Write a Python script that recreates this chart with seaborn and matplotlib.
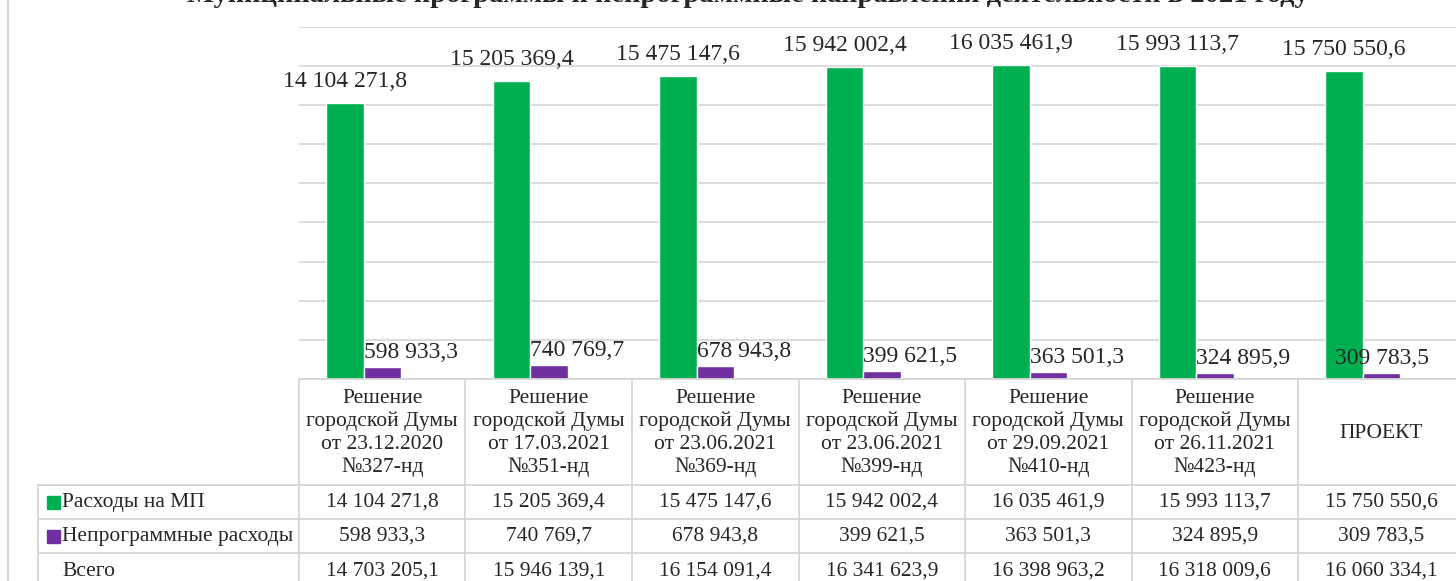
import pandas as pd
import seaborn as sns
import matplotlib.pyplot as plt
from matplotlib.lines import Line2D
from matplotlib.patches import Rectangle

# данные
categories = ["Решение\nгородской Думы\nот 23.12.2020\n№327-нд",
              "Решение\nгородской Думы\nот 17.03.2021\n№351-нд",
              "Решение\nгородской Думы\nот 23.06.2021\n№369-нд",
              "Решение\nгородской Думы\nот 23.06.2021\n№399-нд",
              "Решение\nгородской Думы\nот 29.09.2021\n№410-нд",
              "Решение\nгородской Думы\nот 26.11.2021\n№423-нд",
              "ПРОЕКТ"]
mp_values = [14104271.8, 15205369.4, 15475147.6, 15942002.4, 16035461.9, 15993113.7, 15750550.6]
nonprog_values = [598933.3, 740769.7, 678943.8, 399621.5, 363501.3, 324895.9, 309783.5]
total_values = [14703205.1, 15946139.1, 16154091.4, 16341623.9, 16398963.2, 16318009.6, 16060334.1]
series_names = ["Расходы на МП", "Непрограммные расходы"]
colors = ["#00B050", "#7030A0"]
title = "Муниципальные программы и непрограммные направления деятельности в 2021 году"


def fmt(v):
    return f"{v:,.1f}".replace(",", " ").replace(".", ",")


df = pd.DataFrame({
    "cat": categories * 2,
    "val": mp_values + nonprog_values,
    "series": [series_names[0]] * len(categories) + [series_names[1]] * len(categories),
})

sns.set_style("white")
plt.rcParams['font.family'] = ['Liberation Serif', 'DejaVu Serif']

W, H = 1456, 581
col_w = 166.5      # ширина столбца таблицы, px
tab_left = 299     # левый край области графика / таблицы, px
fig = plt.figure(figsize=(W / 100, H / 100), dpi=100)
# область графика (правый край чуть за картинкой, как в оригинале)
ax = fig.add_axes([tab_left / W, 1 - 379 / H, 7 * col_w / W, (379 - 26.7) / H])

sns.barplot(data=df, x="cat", y="val", hue="series", palette=colors,
            width=0.45, saturation=1, legend=False, ax=ax)
# в оригинале группы столбцов сдвинуты влево относительно колонок таблицы
shift = 0.111
ax.set_xlim(-0.5 + shift, len(categories) - 0.5 + shift)
ax.set_ylim(0, 18e6)
ax.set_yticks(range(0, 18000001, 2000000))
ax.yaxis.grid(True, color="#d6d6d6", linewidth=1.2)
ax.set_axisbelow(True)
for s in ax.spines.values():
    s.set_visible(False)
ax.set_xticks([])
ax.set_yticklabels([])
ax.tick_params(left=False, bottom=False)
ax.set_xlabel("")
ax.set_ylabel("")

# подписи данных
green_bars = ax.containers[0]
purple_bars = ax.containers[1]
for b in green_bars:
    ax.annotate(fmt(b.get_height()), (b.get_x() + b.get_width() / 2, b.get_height()),
                xytext=(0, 16), textcoords="offset pixels", ha="center", va="baseline",
                fontsize=17, annotation_clip=False)
for i, b in enumerate(purple_bars):
    dx = -28 if i == len(purple_bars) - 1 else 0
    ax.annotate(fmt(b.get_height()), (b.get_x(), b.get_height()),
                xytext=(dx, 9), textcoords="offset pixels", ha="left", va="baseline",
                fontsize=17, annotation_clip=False)

# таблица данных
line_col = "#d6d6d6"
fx = lambda px: px / W
fy = lambda px: 1 - px / H
row_tops = [379, 485, 519, 553, 590]

for k in range(len(categories) + 1):
    x = fx(tab_left + k * col_w)
    fig.add_artist(Line2D([x, x], [fy(379), fy(590)], color=line_col, linewidth=1.3))
for y in row_tops[:-1]:
    x0 = tab_left if y == 379 else 38
    fig.add_artist(Line2D([fx(x0), 1.01], [fy(y), fy(y)], color=line_col, linewidth=1.3))
fig.add_artist(Line2D([fx(38), fx(38)], [fy(485), fy(590)], color=line_col, linewidth=1.3))
# рамка диаграммы слева
fig.add_artist(Line2D([fx(8), fx(8)], [0, 1], color="#d9d9d9", linewidth=1.5))

tsize = 15.5
for k, c in enumerate(categories):
    fig.text(fx(tab_left + (k + 0.5) * col_w), fy((379 + 485) / 2 + 1), c,
             ha="center", va="center", fontsize=tsize, linespacing=1.27)

rows = [mp_values, nonprog_values, total_values]
row_labels = series_names + ["Всего"]
for r, (vals, lab) in enumerate(zip(rows, row_labels)):
    yc = fy((row_tops[r + 1] + row_tops[r + 2]) / 2)
    for k, v in enumerate(vals):
        fig.text(fx(tab_left + (k + 0.5) * col_w), yc, fmt(v), ha="center", va="center",
                 fontsize=tsize)
    fig.text(fx(62), yc, lab, ha="left", va="center", fontsize=tsize)
    if r < 2:
        fig.add_artist(Rectangle((fx(47), yc - 6.5 / H), 13 / W, 13 / H,
                                 transform=fig.transFigure, color=colors[r]))

# заголовок (обрезан сверху, как в оригинале - видны только нижние части букв)
fig.text(fx(748), fy(2), title, ha="center", va="baseline", fontsize=20.5,
         fontweight="bold")

fig.savefig("out.png", dpi=100)
